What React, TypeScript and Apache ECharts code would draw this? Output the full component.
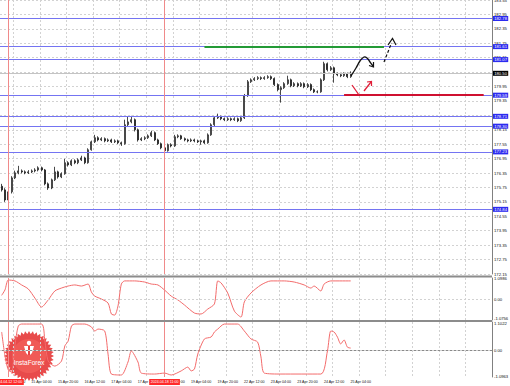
import React, { useEffect, useRef } from "react";
import * as echarts from "echarts";

const SLOT_COUNT = 148;
const PRICE_MIN = 172.15;
const PRICE_MAX = 183.55;
const PRICE_STEP = 0.6;

const TIME_LABELS = [
  "12 Apr 12:00", "15 Apr 04:00", "15 Apr 20:00", "16 Apr 12:00", "17 Apr 04:00",
  "17 Apr 20:00", "18 Apr 12:00", "19 Apr 04:00", "19 Apr 20:00", "22 Apr 12:00",
  "23 Apr 04:00", "23 Apr 20:00", "24 Apr 12:00", "25 Apr 04:00",
];
const TIME_LABEL_FIRST_SLOT = 4;
const TIME_LABEL_EVERY = 8;

const OPEN = [
  175.80, 175.65, 175.23, 175.57, 176.15, 176.36, 176.44, 176.40, 176.36, 176.40,
  176.44, 176.48, 176.57, 176.48, 175.90, 175.73, 176.07, 176.40, 176.19, 176.32,
  176.78, 176.69, 176.86, 176.78, 176.90, 176.98, 176.78, 177.32, 177.65, 177.82,
  177.73, 177.78, 177.69, 177.73, 177.65, 177.69, 177.61, 177.57, 178.36, 178.48,
  178.57, 178.15, 177.73, 177.78, 177.82, 177.90, 178.03, 177.73, 177.57, 177.40,
  177.28, 177.53, 177.48, 177.86, 177.90, 177.78, 177.73, 177.69, 177.73, 177.69,
  177.65, 177.69, 177.61, 177.94, 178.36, 178.65, 178.69, 178.61, 178.57, 178.61,
  178.57, 178.61, 178.53, 178.65, 179.57, 180.15, 180.23, 180.28, 180.32, 180.28,
  180.32, 180.36, 180.28, 180.03, 179.82, 179.90, 180.07, 180.23, 179.98, 180.07,
  179.98, 180.07, 179.94, 180.03, 179.82, 179.73, 179.73, 180.23, 180.90, 180.65,
  180.73, 180.48, 180.44, 180.40, 180.48, 180.36,
];
const CLOSE = [
  175.65, 175.23, 175.57, 176.15, 176.36, 176.44, 176.40, 176.36, 176.40, 176.44,
  176.48, 176.57, 176.48, 175.90, 175.73, 176.07, 176.40, 176.19, 176.32, 176.78,
  176.69, 176.86, 176.78, 176.90, 176.98, 176.78, 177.32, 177.65, 177.82, 177.73,
  177.78, 177.69, 177.73, 177.65, 177.69, 177.61, 177.57, 178.36, 178.48, 178.57,
  178.15, 177.73, 177.78, 177.82, 177.90, 178.03, 177.73, 177.57, 177.40, 177.28,
  177.53, 177.48, 177.86, 177.90, 177.78, 177.73, 177.69, 177.73, 177.69, 177.65,
  177.69, 177.61, 177.94, 178.36, 178.65, 178.69, 178.61, 178.57, 178.61, 178.57,
  178.61, 178.53, 178.65, 179.57, 180.15, 180.23, 180.28, 180.32, 180.28, 180.32,
  180.36, 180.28, 180.03, 179.82, 179.90, 180.07, 180.23, 179.98, 180.07, 179.98,
  180.07, 179.94, 180.03, 179.82, 179.73, 179.73, 180.23, 180.90, 180.65, 180.73,
  180.48, 180.44, 180.40, 180.48, 180.36, 180.50,
];
const LOW = [
  175.58, 175.15, 174.90, 175.50, 176.10, 176.30, 176.34, 176.30, 176.31, 176.35,
  176.38, 176.42, 176.42, 175.84, 175.65, 175.68, 176.02, 176.12, 176.14, 176.28,
  176.62, 176.64, 176.72, 176.72, 176.85, 176.72, 176.74, 177.28, 177.60, 177.67,
  177.68, 177.63, 177.64, 177.60, 177.60, 177.56, 177.48, 177.53, 178.30, 178.42,
  178.08, 177.66, 177.68, 177.72, 177.77, 177.85, 177.68, 177.52, 177.34, 177.19,
  177.24, 177.42, 177.44, 177.80, 177.73, 177.67, 177.63, 177.64, 177.63, 177.60,
  177.53, 177.56, 177.57, 177.90, 178.31, 178.60, 178.55, 178.51, 178.52, 178.51,
  178.52, 178.47, 178.48, 178.60, 179.52, 180.10, 180.18, 180.22, 180.22, 180.23,
  180.27, 180.22, 179.97, 179.75, 179.28, 179.85, 180.02, 179.92, 179.93, 179.92,
  179.93, 179.88, 179.89, 179.76, 179.68, 179.67, 179.69, 180.18, 180.58, 180.60,
  180.11, 180.38, 180.34, 180.35, 180.30, 180.31,
];
const HIGH = [
  175.90, 175.72, 175.62, 176.22, 176.45, 176.65, 176.50, 176.46, 176.47, 176.50,
  176.55, 176.63, 176.62, 176.52, 175.96, 176.12, 176.61, 176.45, 176.38, 176.94,
  176.84, 176.92, 176.92, 176.96, 177.07, 177.03, 177.38, 177.70, 177.94, 177.88,
  177.84, 177.83, 177.79, 177.78, 177.75, 177.74, 177.66, 178.57, 178.69, 178.73,
  178.62, 178.20, 177.84, 177.88, 177.96, 178.11, 178.08, 177.78, 177.62, 177.45,
  177.58, 177.59, 177.94, 177.96, 177.94, 177.83, 177.78, 177.79, 177.78, 177.74,
  177.74, 177.74, 178.00, 178.42, 178.72, 178.82, 178.74, 178.66, 178.67, 178.66,
  178.67, 178.66, 178.70, 179.64, 180.22, 180.29, 180.34, 180.38, 180.37, 180.38,
  180.42, 180.41, 180.33, 180.08, 179.96, 180.13, 180.40, 180.28, 180.13, 180.12,
  180.13, 180.12, 180.09, 180.08, 179.87, 179.79, 180.29, 180.98, 180.95, 180.80,
  180.78, 180.53, 180.49, 180.54, 180.53, 180.58,
];

const LEVELS = [182.78, 181.61, 181.07, 179.59, 178.71, 178.30, 177.23, 174.84];
const LAST_PRICE = 180.5;
const GREEN_LEVEL = { value: 181.61, from: 61, to: 115 };
const RED_LEVEL = { value: 179.59, from: 103, to: 145 };
const MARKER_SLOTS = [2, 49];
const MARKER_LABELS = ["2024.04.12 12:00", "2024.04.18 11:00"];

const OSC1: [number, number][] = [
  [0, 0.2], [1, 0.5], [2, 1.04], [4, 0.99], [6, 0.77], [8, 0.55], [10, 0.05], [12, -0.44],
  [14, -0.05], [16, 0.44], [18, 0.6], [20, 0.71], [22, 0.77], [24, 0.71], [26, 0.82],
  [27, 0.38], [28, 0.16], [30, 0], [32, -0.22], [33, -0.82], [34, -0.88], [35, -0.38],
  [36, 0.82], [37, 0.99], [40, 0.99], [43, 0.93], [45, 0.82], [47, 0.77], [49, 0.49],
  [51, 0.16], [53, -0.05], [55, -0.33], [58, -0.77], [60, -0.82], [62, -0.55], [64, -0.27],
  [65, 0.99], [66, 0.88], [68, 0.33], [70, -0.66], [72, -0.99], [73, -0.16], [75, 0.33],
  [78, 0.77], [81, 0.99], [85, 0.99], [88, 0.93], [91, 0.77], [93, 0.6], [94, 0.71],
  [96, 0.44], [97, 0.82], [99, 0.99], [105, 0.99],
];
const OSC1_MIN = -1.15;
const OSC1_MAX = 1.15;
const OSC1_TICKS = [1.0986, 0, -1.0756];

const OSC2: [number, number][] = [
  [0, 0.75], [1, -0.25], [2, -0.83], [3, -0.92], [4, 0.21], [5, 1.0], [6, 1.08], [12, 1.08],
  [13, 0.37], [14, -0.46], [16, -0.67], [18, -0.46], [19, 0.17], [20, 0.37], [21, 1.0],
  [22, 1.08], [25, 1.08], [27, 0.96], [28, 0.79], [29, 0.87], [31, 0.79], [32, -0.17],
  [33, -1.0], [36, -1.04], [38, -0.5], [39, -0.04], [41, -0.5], [42, -0.96], [46, -1.0],
  [49, -0.96], [51, -1.04], [54, -0.87], [56, -0.71], [57, -0.87], [58, -0.79], [59, -0.17],
  [61, 0.46], [63, 0.54], [64, 0.75], [65, 0.87], [67, 1.08], [71, 1.08], [73, 0.79],
  [75, 0.46], [77, 0.33], [78, -0.29], [79, -0.96], [84, -1.0], [96, -1.0], [98, -0.04],
  [99, 0.79], [100, 0.75], [101, 0.54], [102, 0.25], [103, 0.42], [104, 0.12], [105, 0.08],
];
const OSC2_MIN = -1.123;
const OSC2_MAX = 1.165;
const OSC2_TICKS = [1.1022, 0, -1.0963];

const FONT = "Liberation Sans";
const GRID_DASH = [2, 2];
const GRID_COLOR = "#d2d2d2";
const OSC_COLOR = "#f36b6b";
const MARKER_COLOR = "#f08a8a";

function buildOption() {
  const categories = Array.from({ length: SLOT_COUNT }, (_, i) => String(i));
  const candles = OPEN.map((o, i) => [o, CLOSE[i], LOW[i], HIGH[i]]);
  const isGridSlot = (i: number) => i % TIME_LABEL_EVERY === TIME_LABEL_FIRST_SLOT;

  const grids = [
    { left: 0, right: 18, top: 0, height: 274 },
    { left: 0, right: 18, top: 278, height: 42 },
    { left: 0, right: 18, top: 322, height: 55 },
  ].map((g) => ({ ...g, containLabel: false, outerBoundsMode: "none" }));

  const xAxes = [0, 1, 2].map((gi) => ({
    type: "category",
    gridIndex: gi,
    data: categories,
    boundaryGap: true,
    axisTick: { show: false },
    axisLine: { show: gi === 2, lineStyle: { color: "#8a8a8a", width: 1 } },
    splitLine: {
      show: true,
      interval: (i: number) => isGridSlot(i),
      lineStyle: { color: GRID_COLOR, type: GRID_DASH, width: 1 },
    },
    axisLabel: {
      show: gi === 2,
      interval: (i: number) => isGridSlot(i) && (i - TIME_LABEL_FIRST_SLOT) / TIME_LABEL_EVERY < TIME_LABELS.length,
      formatter: (_v: string, i: number) => TIME_LABELS[(i - TIME_LABEL_FIRST_SLOT) / TIME_LABEL_EVERY] || "",
      fontSize: 3.6,
      fontFamily: FONT,
      color: "#111",
      margin: 3,
    },
  }));

  const yAxes = [
    {
      type: "value",
      gridIndex: 0,
      position: "right",
      min: PRICE_MIN,
      max: PRICE_MAX,
      interval: PRICE_STEP,
      axisLine: { show: true, lineStyle: { color: "#808080", width: 1 } },
      axisTick: { show: false },
      splitLine: { show: true, lineStyle: { color: GRID_COLOR, type: GRID_DASH, width: 1 } },
      axisLabel: {
        fontSize: 4.2,
        fontFamily: FONT,
        color: "#111",
        margin: 2,
        formatter: (v: number) => v.toFixed(2),
      },
    },
    {
      type: "value",
      gridIndex: 1,
      position: "right",
      min: OSC1_MIN,
      max: OSC1_MAX,
      axisLine: { show: true, lineStyle: { color: "#808080", width: 1 } },
      axisTick: { show: false },
      splitLine: { show: false },
      axisLabel: {
        customValues: OSC1_TICKS,
        fontSize: 4.2,
        fontFamily: FONT,
        color: "#111",
        margin: 2,
        formatter: (v: number) => (v === 0 ? "0.00" : v.toFixed(4)),
      },
    },
    {
      type: "value",
      gridIndex: 2,
      position: "right",
      min: OSC2_MIN,
      max: OSC2_MAX,
      axisLine: { show: true, lineStyle: { color: "#808080", width: 1 } },
      axisTick: { show: false },
      splitLine: { show: false },
      axisLabel: {
        customValues: OSC2_TICKS,
        fontSize: 4.2,
        fontFamily: FONT,
        color: "#111",
        margin: 2,
        formatter: (v: number) => (v === 0 ? "0.00" : v.toFixed(4)),
      },
    },
  ];

  const priceBox = (v: number, bg: string) => ({
    show: true,
    position: "end",
    distance: 1,
    formatter: v.toFixed(2),
    color: "#fff",
    backgroundColor: bg,
    fontSize: 4.2,
    fontFamily: FONT,
    padding: [0.6, 1.2, 0.4, 1.2],
  });

  const verticalMarkers = (withLabel: boolean) =>
    MARKER_SLOTS.map((s, k) => ({
      xAxis: s,
      lineStyle: { color: MARKER_COLOR, width: 1, type: "solid" },
      label: withLabel
        ? {
            show: true,
            position: "start",
            distance: 2,
            formatter: MARKER_LABELS[k],
            color: "#fff",
            backgroundColor: "#ff2a2a",
            fontSize: 3.6,
            fontFamily: FONT,
            padding: [1, 1.5, 1, 1.5],
          }
        : { show: false },
    }));

  const mainMarks: any[] = [
    ...LEVELS.map((v) => ({
      yAxis: v,
      lineStyle: { color: "#7474f2", width: 1.2, type: "solid" },
      label: priceBox(v, "#2b2bf0"),
    })),
    {
      yAxis: LAST_PRICE,
      lineStyle: { color: "#c4c4c4", width: 1, type: "solid" },
      label: priceBox(LAST_PRICE, "#000"),
    },
    [
      { coord: [GREEN_LEVEL.from, GREEN_LEVEL.value], lineStyle: { color: "#239a36", width: 2, type: "solid" }, label: { show: false } },
      { coord: [GREEN_LEVEL.to, GREEN_LEVEL.value], lineStyle: { color: "#239a36", width: 2, type: "solid" }, label: { show: false } },
    ],
    [
      { coord: [RED_LEVEL.from, RED_LEVEL.value], lineStyle: { color: "#cf1030", width: 2, type: "solid" }, label: { show: false } },
      { coord: [RED_LEVEL.to, RED_LEVEL.value], lineStyle: { color: "#cf1030", width: 2, type: "solid" }, label: { show: false } },
    ],
    ...verticalMarkers(false),
  ];

  const zeroLine = {
    yAxis: 0,
    lineStyle: { color: GRID_COLOR, width: 1, type: GRID_DASH },
    label: { show: false },
  };

  // logo burst outline (decorative)
  const teeth: number[][] = [];
  const nTeeth = 40;
  for (let k = 0; k < nTeeth * 2; k++) {
    const a = (Math.PI * k) / nTeeth;
    const r = k % 2 === 0 ? 25 : 22;
    teeth.push([Math.cos(a) * r, Math.sin(a) * r]);
  }

  const graphic: any[] = [
    { type: "rect", shape: { x: 0, y: 275.5, width: 492, height: 2 }, style: { fill: "#8c8c8c" }, z: 50, silent: true },
    { type: "rect", shape: { x: 0, y: 320, width: 492, height: 2 }, style: { fill: "#8c8c8c" }, z: 50, silent: true },
    {
      type: "group",
      x: 29,
      y: 356,
      z: 60,
      silent: true,
      children: [
        { type: "polygon", shape: { points: teeth }, style: { fill: "rgba(228,45,45,0.86)" } },
        { type: "circle", shape: { cx: 0, cy: 0, r: 17 }, style: { fill: "rgba(255,120,110,0.35)" } },
        { type: "circle", shape: { cx: 0, cy: -13, r: 2.2 }, style: { fill: "#fff" } },
        { type: "polygon", shape: { points: [[-5, -10], [5, -10], [3, -3], [1, -1], [-1, -1], [-3, -3]] }, style: { fill: "#fff" } },
        { type: "rect", shape: { x: -1, y: -10, width: 2, height: 9 }, style: { fill: "rgba(228,45,45,0.9)" } },
        {
          type: "text",
          x: 0,
          y: 6,
          style: { text: "InstaForex", fill: "#fff", font: `6.5px "${FONT}"`, textAlign: "center", textVerticalAlign: "middle" },
        },
      ],
    },
    // hand-drawn forecast arrows
    {
      type: "polyline",
      z: 70,
      silent: true,
      shape: { points: [[351, 76], [356, 68], [360, 61], [364, 57], [367, 58], [370, 62], [373, 66]], smooth: 0.4 },
      style: { stroke: "#111", lineWidth: 1.3, fill: "none" },
    },
    { type: "polyline", z: 70, silent: true, shape: { points: [[369, 65.5], [373.5, 67], [373.5, 62]] }, style: { stroke: "#111", lineWidth: 1.2, fill: "none" } },
    { type: "line", z: 70, silent: true, shape: { x1: 384, y1: 62, x2: 391.5, y2: 43 }, style: { stroke: "#111", lineWidth: 1.2, lineDash: [3, 2] } },
    { type: "polyline", z: 70, silent: true, shape: { points: [[388, 45], [392.5, 38.5], [396, 45]] }, style: { stroke: "#111", lineWidth: 1.2, fill: "none" } },
    { type: "line", z: 70, silent: true, shape: { x1: 352, y1: 85, x2: 359, y2: 95 }, style: { stroke: "#e0203a", lineWidth: 1.3 } },
    { type: "line", z: 70, silent: true, shape: { x1: 364, y1: 91, x2: 371, y2: 82 }, style: { stroke: "#e0203a", lineWidth: 1.3 } },
    { type: "polyline", z: 70, silent: true, shape: { points: [[367, 82], [371.5, 81.5], [371.5, 86]] }, style: { stroke: "#e0203a", lineWidth: 1.2, fill: "none" } },
  ];

  return {
    animation: false,
    backgroundColor: "#fff",
    grid: grids,
    xAxis: xAxes,
    yAxis: yAxes,
    graphic,
    series: [
      {
        type: "candlestick",
        xAxisIndex: 0,
        yAxisIndex: 0,
        data: candles,
        barWidth: 1.5,
        itemStyle: { color: "#ffffff", color0: "#1a1a1a", borderColor: "#1a1a1a", borderColor0: "#1a1a1a", borderWidth: 0.8 },
        markLine: { symbol: "none", silent: true, animation: false, data: mainMarks },
      },
      {
        type: "line",
        xAxisIndex: 1,
        yAxisIndex: 1,
        data: OSC1,
        smooth: 0.25,
        showSymbol: false,
        lineStyle: { color: OSC_COLOR, width: 1 },
        markLine: { symbol: "none", silent: true, animation: false, data: [zeroLine, ...verticalMarkers(false)] },
      },
      {
        type: "line",
        xAxisIndex: 2,
        yAxisIndex: 2,
        data: OSC2,
        smooth: 0.25,
        showSymbol: false,
        lineStyle: { color: OSC_COLOR, width: 1 },
        markLine: { symbol: "none", silent: true, animation: false, data: [zeroLine, ...verticalMarkers(true)] },
      },
    ],
  };
}

export default function App() {
  const ref = useRef<HTMLDivElement>(null);
  useEffect(() => {
    if (!ref.current) return;
    const chart = echarts.init(ref.current, undefined, { renderer: "svg" });
    chart.setOption(buildOption() as any);
    return () => chart.dispose();
  }, []);
  return (
    <div
      ref={ref}
      style={{ position: "fixed", left: 0, top: 0, width: 510, height: 386, background: "#fff" }}
    />
  );
}
